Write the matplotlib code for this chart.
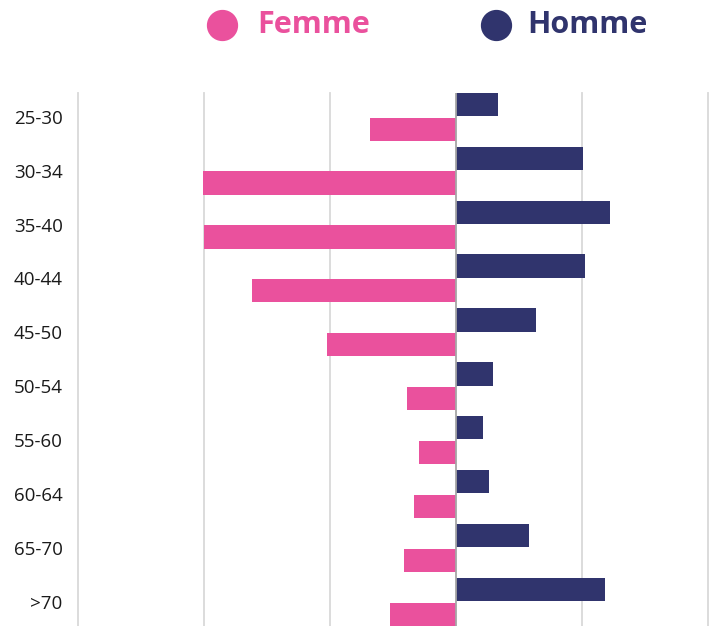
import matplotlib.pyplot as plt
import numpy as np
from matplotlib.lines import Line2D

plt.rcParams['font.family'] = ['Open Sans', 'DejaVu Sans']

ages = ['25-30', '30-34', '35-40', '40-44', '45-50', '50-54', '55-60', '60-64', '65-70', '>70']
homme = [3.3, 10.1, 12.25, 10.24, 6.37, 2.9, 2.14, 2.64, 5.8, 11.85]
femme = [6.83, 20.1, 20.0, 16.2, 10.24, 3.86, 2.96, 3.35, 4.1, 5.2]
grid_x = [-30, -20, -10, 10, 20]

pink = '#EA519D'
navy = '#30346D'

fig = plt.figure(figsize=(7.1, 6.26), dpi=100)
ax = fig.add_axes([78/710, 0.0, 630/710, 1 - 92.7/626])

y = np.arange(len(ages))
h = 0.43
ax.barh(y - 0.23, homme, height=h, color=navy, zorder=3)
ax.barh(y + 0.23, [-v for v in femme], height=h, color=pink, zorder=3)

ax.set_xlim(-30, 20)
ax.set_ylim(9.445, -0.445)
ax.set_xticks([])
for gx in grid_x:
    ax.axvline(gx, color='#d9d9d9', linewidth=1.3, zorder=0, clip_on=False)
ax.axvline(0, color='#a6a6a6', linewidth=1.3, zorder=4)

ax.set_yticks(y)
ax.set_yticklabels(ages, fontsize=13.5, color='#1a1a1a')
ax.tick_params(axis='y', length=0, pad=11)
for s in ax.spines.values():
    s.set_visible(False)

# legend at the top
fig.add_artist(Line2D([222/710], [1 - 24.5/626], marker='o', markersize=21.5,
                      color=pink, transform=fig.transFigure))
fig.add_artist(Line2D([496/710], [1 - 24.5/626], marker='o', markersize=21.5,
                      color=navy, transform=fig.transFigure))
fig.text(257/710, 1 - 25/626, 'Femme', color=pink, fontsize=22, fontweight='bold',
         va='center', ha='left')
fig.text(527/710, 1 - 25/626, 'Homme', color=navy, fontsize=22, fontweight='bold',
         va='center', ha='left')

fig.savefig('out.png', dpi=100)
